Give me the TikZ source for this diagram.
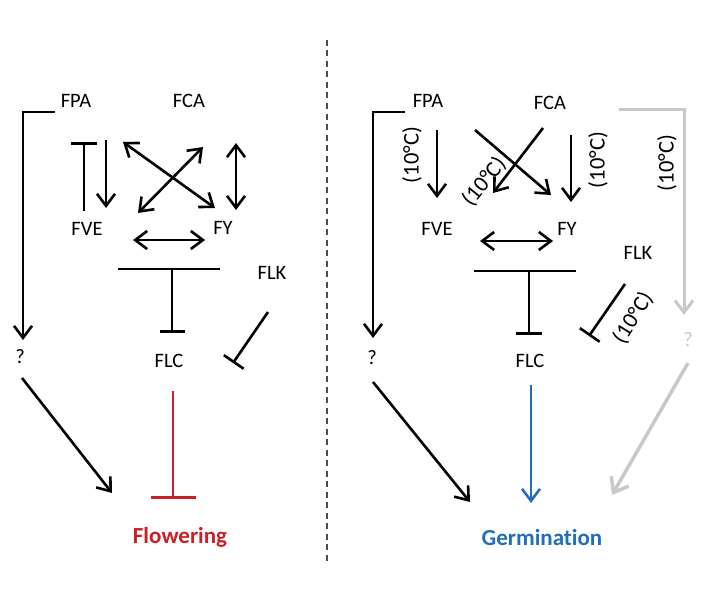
\documentclass[tikz,border=0pt]{standalone}
\usepackage{fontspec}
\setmainfont[Ligatures={NoCommon}]{Carlito}
\usetikzlibrary{arrows.meta}
\definecolor{flred}{RGB}{200,32,38}
\definecolor{gblue}{RGB}{34,110,190}
\definecolor{lgray}{RGB}{200,200,200}
\tikzset{
  lbl/.style={font=\fontsize{20.5}{24}\selectfont, inner sep=0pt},
  temp/.style={font=\fontsize{22.5}{26}\selectfont, inner sep=0pt},
  big/.style={font=\fontsize{23}{27}\selectfont\bfseries, inner sep=0pt},
  conn/.style={line width=2.6pt},
  barb/.tip={Straight Barb[length=12pt,width=18pt,line width=2.6pt]},
  act/.style={conn, -barb},
  dact/.style={conn, barb-barb},
  inh/.style={conn, -{Bar[width=#1,line width=2.6pt]}},
  inh/.default=26pt,
}
\begin{document}
\begin{tikzpicture}[x=1pt,y=-1pt]
\useasboundingbox (0,0) rectangle (708,607);
% divider
\draw[line width=1.8pt, dash pattern=on 6pt off 4.5pt, black!70] (327,40) coordinate (dtop) -- (327,565) coordinate (dbot);

% ---------- LEFT PANEL ----------
\node[lbl] (lFPA) at (76,101) {FPA};
\node[lbl] (lFCA) at (189,101) {FCA};
\node[lbl] (lFVE) at (87,229) {FVE};
\node[lbl] (lFY)  at (223,228) {FY};
\node[lbl] (lFLK) at (272,273) {FLK};
\node[lbl] (lFLC) at (169,361) {FLC};
\node[lbl] (lQ)   at (20,357) {?};
\node[big, text=flred] (lFlow) at (180,537) {Flowering};

\coordinate (lb1) at (55,112); \coordinate (lb2) at (23,112); \coordinate (lb3) at (23,340);
\draw[act] (lb1) -- (lb2) -- (lb3);
\coordinate (lt1) at (84,211); \coordinate (lt2) at (84,142);
\draw[inh] (lt1) -- (lt2);
\coordinate (ld1) at (106,140); \coordinate (ld2) at (106,208);
\draw[act] (ld1) -- (ld2);
\coordinate (lx1) at (123,142); \coordinate (lx2) at (215,208);
\draw[dact] (lx1) -- (lx2);
\coordinate (ly1) at (203,147); \coordinate (ly2) at (138,213);
\draw[dact] (ly1) -- (ly2);
\coordinate (lv1) at (236,143); \coordinate (lv2) at (236,210);
\draw[dact] (lv1) -- (lv2);
\coordinate (lh1) at (133,240); \coordinate (lh2) at (205,240);
\draw[dact] (lh1) -- (lh2);
\coordinate (lT1) at (118,269); \coordinate (lT2) at (220,269); \coordinate (lTm) at (172,269); \coordinate (lTe) at (172,333);
\draw[conn] (lT1) -- (lT2);
\draw[inh=25pt] (lTm) -- (lTe);
\coordinate (lk1) at (268,312); \coordinate (lk2) at (233,363);
\draw[inh=24pt] (lk1) -- (lk2);
\coordinate (lq1) at (22,378); \coordinate (lq2) at (112,493);
\draw[act] (lq1) -- (lq2);
\coordinate (lr1) at (173,391); \coordinate (lr2) at (173,499);
\draw[conn, flred, -{Bar[width=45pt,line width=2.6pt]}] (lr1) -- (lr2);

% ---------- RIGHT PANEL ----------
\node[lbl] (rFPA) at (428,101) {FPA};
\node[lbl] (rFCA) at (550,103) {FCA};
\node[lbl] (rFVE) at (437,229) {FVE};
\node[lbl] (rFY)  at (567,229) {FY};
\node[lbl] (rFLK) at (638,253) {FLK};
\node[lbl] (rFLC) at (530,361) {FLC};
\node[lbl] (rQ)   at (372,358) {?};
\node[lbl, text=lgray] (gQ) at (688,340) {?};
\node[big, text=gblue] (rGerm) at (542,538) {Germination};

\node[temp, rotate=90] (t1) at (412,155) {(10°C)};
\node[temp, rotate=51] (t2) at (484,182) {(10°C)};
\node[temp, rotate=90] (t3) at (598,160) {(10°C)};
\node[temp, rotate=90] (t4) at (667,163) {(10°C)};
\node[temp, rotate=58] (t5) at (633,318) {(10°C)};

\coordinate (rb1) at (405,112); \coordinate (rb2) at (373,112); \coordinate (rb3) at (373,338);
\draw[act] (rb1) -- (rb2) -- (rb3);
\coordinate (ra1) at (437,130); \coordinate (ra2) at (437,198);
\draw[act] (ra1) -- (ra2);
\coordinate (rx1) at (475,130); \coordinate (rx2) at (551,195);
\draw[act] (rx1) -- (rx2);
\coordinate (ry1) at (543,128); \coordinate (ry2) at (493,193);
\draw[act] (ry1) -- (ry2);
\coordinate (rv1) at (571,135); \coordinate (rv2) at (571,202);
\draw[act] (rv1) -- (rv2);
\coordinate (rh1) at (480,241); \coordinate (rh2) at (553,241);
\draw[dact] (rh1) -- (rh2);
\coordinate (rT1) at (474,271); \coordinate (rT2) at (576,271); \coordinate (rTm) at (529,271); \coordinate (rTe) at (529,335);
\draw[conn] (rT1) -- (rT2);
\draw[inh=26pt] (rTm) -- (rTe);
\coordinate (rk1) at (625,284); \coordinate (rk2) at (589,336);
\draw[inh=24pt] (rk1) -- (rk2);
\coordinate (rq1) at (373,382); \coordinate (rq2) at (470,502);
\draw[act] (rq1) -- (rq2);
\coordinate (rf1) at (531,385); \coordinate (rf2) at (531,503);
\draw[conn, gblue, -{Straight Barb[length=12pt,width=18pt,line width=2.6pt]}] (rf1) -- (rf2);

% gray pathway
\coordinate (gb1) at (619,109); \coordinate (gb2) at (684,109); \coordinate (gb3) at (684,315);
\draw[line width=3pt, lgray, -{Straight Barb[length=12pt,width=18pt,line width=3pt]}] (gb1) -- (gb2) -- (gb3);
\coordinate (gq1) at (688,363); \coordinate (gq2) at (612,495);
\draw[line width=3.5pt, lgray, -{Straight Barb[length=13pt,width=20pt,line width=3.5pt]}] (gq1) -- (gq2);
\end{tikzpicture}
\end{document}
